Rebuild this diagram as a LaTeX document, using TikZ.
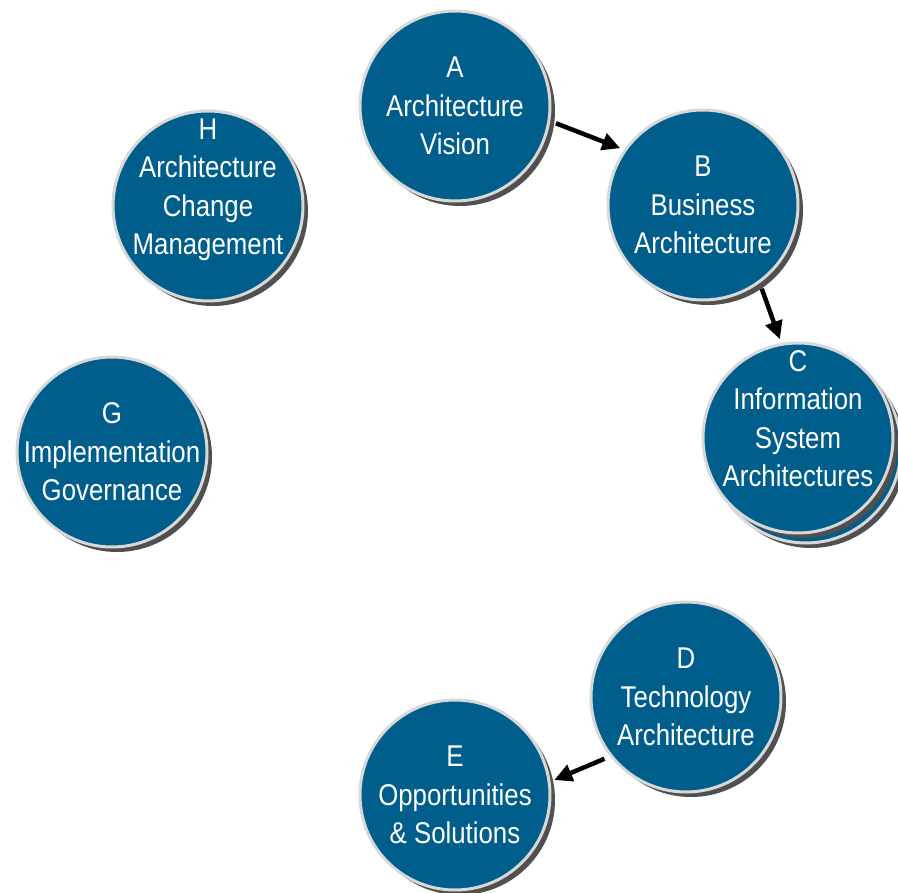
\documentclass[tikz,border=0pt]{standalone}
\usepackage{fontspec}
\setmainfont{Liberation Sans}[FakeStretch=0.86]
\usetikzlibrary{arrows.meta,shadows}
\definecolor{phaseblue}{RGB}{0,94,140}
\definecolor{phaserim}{RGB}{216,216,216}
\definecolor{phaseshadow}{RGB}{80,80,80}
\begin{document}
\begin{tikzpicture}[x=1pt,y=-1pt,
    phasecore/.style={circle, fill=phaseblue, draw=phaserim, line width=3pt,
        minimum size=190pt, inner sep=-40pt, align=center, text=white,
        font=\fontsize{30}{38.5}\selectfont},
    phase/.style={phasecore,
        general shadow={shadow xshift=5pt, shadow yshift=-5pt, fill=phaseshadow}},
    stackedphase/.style={phasecore,
        general shadow={shadow xshift=13pt, shadow yshift=-15pt, fill=phaseshadow},
        general shadow={shadow xshift=8pt, shadow yshift=-10pt, fill=phaseblue, draw=phaserim},
        general shadow={shadow xshift=5pt, shadow yshift=-5pt, fill=phaseshadow}},
    cyclearrow/.style={-{Triangle[length=18pt,width=17pt]}, line width=4.5pt,
        shorten <=6pt, shorten >=4pt}]
    \useasboundingbox (0,0) rectangle (898,893);

    % phases
    \node[phase] (A) at (455,106) {A\\Architecture\\Vision};
    \node[phase] (B) at (703,205) {B\\Business\\Architecture};
    \node[stackedphase] (C) at (798,438) {C\\Information\\System\\Architectures\\\mbox{}};
    \node[phase] (D) at (686,697) {D\\Technology\\Architecture};
    \node[phase] (E) at (455,795) {E\\Opportunities\\\& Solutions};
    \node[phase] (G) at (112,452) {G\\Implementation\\Governance};
    \node[phase] (H) at (208,206) {H\\Architecture\\Change\\Management\\\mbox{}};

    % arrows
    \draw[cyclearrow] (A.-9) -- (B.145);
    \draw[cyclearrow] (B.-54) -- (C.100);
    \draw[cyclearrow] (D.218) -- (E.8);
\end{tikzpicture}
\end{document}
